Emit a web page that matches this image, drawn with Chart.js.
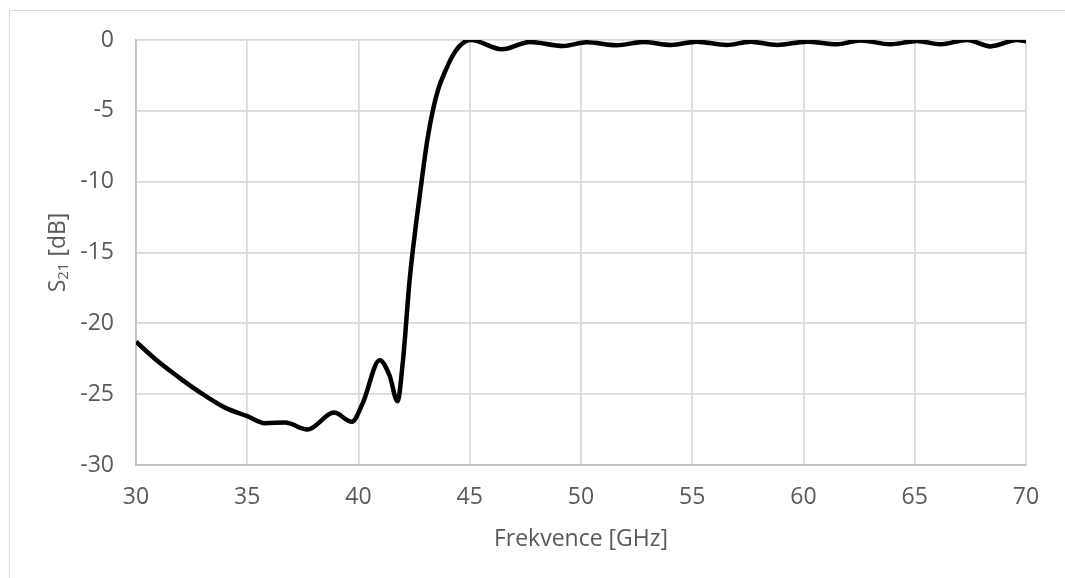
<!DOCTYPE html>
<html>
<head>
<meta charset="utf-8">
<script src="https://cdn.jsdelivr.net/npm/chart.js@4/dist/chart.umd.min.js"></script>
<style>
  html, body { margin: 0; padding: 0; background: #ffffff; }
  #wrap { width: 1065px; height: 578px; position: relative; }
</style>
</head>
<body>
<div id="wrap"><canvas id="c" width="1065" height="578"></canvas></div>
<script>
// Frequency [GHz]
const freq = [30, 31, 32, 33, 34, 35, 35.8, 36.7, 37.7, 38.9, 39.7, 40.2, 40.95, 41.4, 41.75, 42.0, 42.3, 42.6, 42.9, 43.1, 43.35, 43.6, 43.9, 44.2, 44.5, 44.8, 45.05, 46.45, 47.7, 49.2, 50.25, 51.6, 52.8, 54.05, 55.2, 56.55, 57.6, 58.8, 60.15, 61.5, 62.55, 63.9, 65.1, 66.15, 67.35, 68.4, 69.6, 70];
// S21 [dB]
const s21 = [-21.3, -22.7, -23.9, -25.0, -25.95, -26.55, -27.05, -27.0, -27.5, -26.3, -26.95, -25.6, -22.6, -23.7, -25.5, -22.6, -16.9, -12.8, -9.2, -7.0, -4.9, -3.4, -2.2, -1.2, -0.5, -0.1, 0.0, -0.66, -0.14, -0.42, -0.16, -0.37, -0.14, -0.35, -0.12, -0.35, -0.12, -0.35, -0.12, -0.3, -0.03, -0.3, -0.07, -0.3, 0.0, -0.45, 0.0, -0.1];
const xTicks = [30, 35, 40, 45, 50, 55, 60, 65, 70];
const yTicks = [0, -5, -10, -15, -20, -25, -30];
const xTitle = 'Frekvence [GHz]';
const yTitleMain = 'S';
const yTitleSub = '21';
const yTitleRest = ' [dB]';

const FONT = "'Open Sans', sans-serif";
const TXT = '#595959';
const FS = 23;

const points = freq.map((f, i) => ({ x: f, y: s21[i] }));

const frame = {
  id: 'frame',
  beforeDraw(chart) {
    const ctx = chart.ctx;
    ctx.save();
    ctx.fillStyle = '#ffffff';
    ctx.fillRect(0, 0, chart.width, chart.height);
    ctx.strokeStyle = '#d9d9d9';
    ctx.lineWidth = 1;
    ctx.strokeRect(9.5, 10.5, 1200, 700);
    ctx.restore();
  },
  afterDraw(chart) {
    const ctx = chart.ctx;
    const a = chart.chartArea;
    const cy = (a.top + a.bottom) / 2;
    const cx = 58;
    ctx.save();
    ctx.translate(cx, cy);
    ctx.rotate(-Math.PI / 2);
    ctx.fillStyle = TXT;
    ctx.textBaseline = 'middle';
    ctx.font = FS + 'px ' + FONT;
    const wMain = ctx.measureText(yTitleMain).width;
    const wRest = ctx.measureText(yTitleRest).width;
    ctx.font = '15px ' + FONT;
    const wSub = ctx.measureText(yTitleSub).width;
    const total = wMain + wSub + wRest;
    let x = -total / 2;
    ctx.textAlign = 'left';
    ctx.font = FS + 'px ' + FONT;
    ctx.fillText(yTitleMain, x, 0);
    x += wMain;
    ctx.font = '15px ' + FONT;
    ctx.fillText(yTitleSub, x, 6);
    x += wSub;
    ctx.font = FS + 'px ' + FONT;
    ctx.fillText(yTitleRest, x, 0);
    ctx.restore();
  }
};

new Chart(document.getElementById('c'), {
  type: 'line',
  data: {
    datasets: [{
      data: points,
      borderColor: '#000000',
      borderWidth: 4.5,
      pointRadius: 0,
      fill: false,
      cubicInterpolationMode: 'monotone'
    }]
  },
  options: {
    responsive: false,
    animation: false,
    events: [],
    layout: { padding: { left: 0, top: 40, right: 39, bottom: 0 } },
    plugins: { legend: { display: false }, tooltip: { enabled: false }, title: { display: false } },
    scales: {
      x: {
        type: 'linear',
        min: 30, max: 70,
        afterBuildTicks(scale) { scale.ticks = xTicks.map(v => ({ value: v })); },
        afterFit(scale) { scale.height = 113; },
        grid: { color: '#d9d9d9', lineWidth: 1.75, drawTicks: false },
        border: { color: '#bfbfbf', width: 1.75 },
        ticks: { color: TXT, font: { family: FONT, size: FS }, padding: 19, maxRotation: 0 },
        title: { display: true, text: xTitle, color: TXT, font: { family: FONT, size: FS }, padding: { top: 4, bottom: 25 } }
      },
      y: {
        min: -30, max: 0,
        afterBuildTicks(scale) { scale.ticks = yTicks.map(v => ({ value: v })); },
        afterFit(scale) { scale.width = 136; },
        grid: { color: '#d9d9d9', lineWidth: 1.75, drawTicks: false },
        border: { color: '#bfbfbf', width: 1.75 },
        ticks: { color: TXT, font: { family: FONT, size: FS }, padding: 22 }
      }
    }
  },
  plugins: [frame]
});
</script>
</body>
</html>
